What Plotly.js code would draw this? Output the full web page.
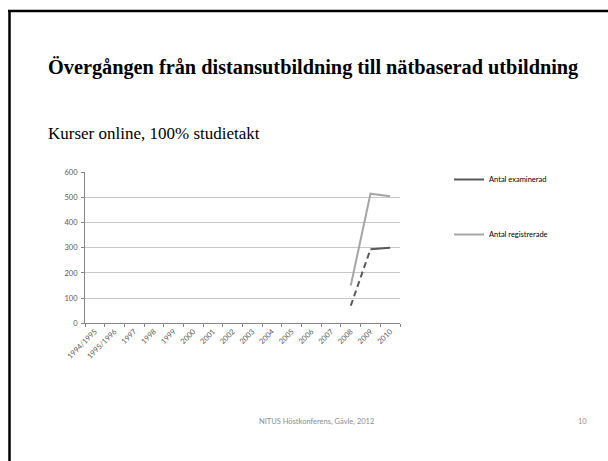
<!DOCTYPE html>
<html>
<head>
<meta charset="utf-8">
<script src="https://cdn.plot.ly/plotly-3.0.1.min.js"></script>
<style>html,body{margin:0;padding:0;background:#fff;overflow:hidden;}#chart{width:608px;height:461px;}</style>
</head>
<body>
<div id="chart"></div>
<script>
const categories = ["1994/1995","1995/1996","1997","1998","1999","2000","2001","2002","2003","2004","2005","2006","2007","2008","2009","2010"];
const examinerad = [null,null,null,null,null,null,null,null,null,null,null,null,null,70,294,300];
const registrerade = [null,null,null,null,null,null,null,null,null,null,null,null,null,150,515,505];
const seriesNames = ["Antal examinerad","Antal registrerade"];
const yTicks = [0,100,200,300,400,500,600];

const W = 608, H = 461;
const px = v => v / W, py = v => 1 - v / H;

// examinerad: first segment (2008-2009) is dashed, remainder solid
const firstIdx = examinerad.findIndex(v => v !== null);
const exDashed = examinerad.map((v, i) => (i === firstIdx || i === firstIdx + 1) ? v : null);
const exSolid = examinerad.map((v, i) => (i > firstIdx) ? v : null);

const darkGray = "#595959", lightGray = "#a6a6a6";

const traces = [
  {x: categories, y: exSolid, type: "scatter", mode: "lines", name: seriesNames[0],
   line: {color: darkGray, width: 2}, legendgroup: "a", connectgaps: false},
  {x: categories, y: exDashed, type: "scatter", mode: "lines", name: seriesNames[0],
   line: {color: darkGray, width: 2, dash: "6px,4px"}, legendgroup: "a", showlegend: false},
  {x: categories, y: registrerade, type: "scatter", mode: "lines", name: seriesNames[1],
   line: {color: lightGray, width: 2}, legendgroup: "b"}
];

const tickFont = {family: "Lato, 'Liberation Sans', sans-serif", size: 7.5, color: "#595959"};

const layout = {
  width: W, height: H,
  margin: {l: 0, r: 0, t: 0, b: 0},
  paper_bgcolor: "#fff", plot_bgcolor: "#fff",
  showlegend: true,
  title: {
    text: "<b>Övergången från distansutbildning till nätbaserad utbildning</b>",
    font: {family: "'Liberation Serif', 'Times New Roman', serif", size: 20.3, color: "#000"},
    x: px(48), xref: "paper", xanchor: "left",
    y: py(67), yref: "paper", yanchor: "middle"
  },
  xaxis: {
    domain: [px(85), px(400)],
    type: "category",
    categoryarray: categories, categoryorder: "array",
    range: [-0.5, categories.length - 0.5],
    tickangle: -45,
    tickson: "boundaries",
    ticks: "outside", ticklen: 3, tickcolor: "#868686", tickwidth: 1,
    showline: true, linecolor: "#868686", linewidth: 1,
    showgrid: false, zeroline: false,
    tickfont: tickFont, fixedrange: true
  },
  yaxis: {
    domain: [1 - 323.3 / H, 1 - 172.3 / H],
    range: [0, 600],
    tickvals: yTicks,
    ticks: "outside", ticklen: 3, tickcolor: "#868686",
    showline: true, linecolor: "#868686", linewidth: 1,
    showgrid: true, gridcolor: "#c8c8c8", gridwidth: 1,
    zeroline: false,
    tickfont: tickFont, ticklabelstandoff: 2
  },
  legend: {
    x: px(449), xanchor: "left", y: py(165), yanchor: "top",
    font: {family: "Lato, 'Liberation Sans', sans-serif", size: 7.5, color: "#000"},
    tracegroupgap: 36, bgcolor: "rgba(0,0,0,0)", itemwidth: 30
  },
  annotations: [
    {text: "Kurser online, 100% studietakt", xref: "paper", yref: "paper",
     x: px(46), y: py(134), xanchor: "left", yanchor: "middle", showarrow: false,
     font: {family: "'Liberation Serif', 'Times New Roman', serif", size: 17, color: "#000"}},
    {text: "NITUS Höstkonferens, Gävle, 2012", xref: "paper", yref: "paper",
     x: px(316), y: py(421), xanchor: "center", yanchor: "middle", showarrow: false,
     font: {family: "Lato, 'Liberation Sans', sans-serif", size: 7.5, color: "#8c8c8c"}},
    {text: "10", xref: "paper", yref: "paper",
     x: px(582), y: py(421), xanchor: "center", yanchor: "middle", showarrow: false,
     font: {family: "Lato, 'Liberation Sans', sans-serif", size: 7.5, color: "#8c8c8c"}}
  ],
  shapes: [
    {type: "line", xref: "paper", yref: "paper", x0: px(8), x1: px(620), y0: py(11), y1: py(11),
     line: {color: "#000", width: 2.5}},
    {type: "line", xref: "paper", yref: "paper", x0: px(9.5), x1: px(9.5), y0: py(10), y1: py(470),
     line: {color: "#000", width: 2.5}}
  ]
};

Plotly.newPlot("chart", traces, layout, {displayModeBar: false, staticPlot: true});
</script>
</body>
</html>
